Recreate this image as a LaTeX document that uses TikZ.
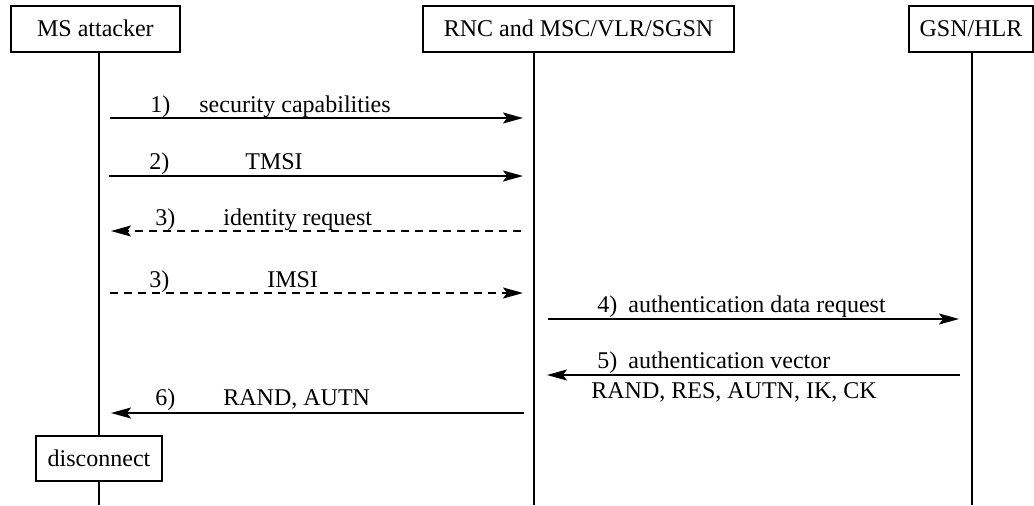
\documentclass[tikz,border=0pt]{standalone}
\usepackage{fontspec}
\setmainfont{Liberation Serif}
\usetikzlibrary{arrows.meta}
\begin{document}
\begin{tikzpicture}[x=0.5pt,y=-0.5pt,
  font=\fontsize{12pt}{14pt}\selectfont,
  actor/.style={draw,line width=0.9pt,inner sep=0pt,minimum height=23pt},
  lifeline/.style={line width=0.9pt},
  msg/.style={line width=0.9pt,-{Stealth[length=10pt,width=5.5pt,inset=2pt]}},
  dmsg/.style={msg,dash pattern=on 4pt off 3pt},
  lbl/.style={anchor=base west,inner sep=0pt}]
\useasboundingbox (0,0) rectangle (1034,505);
% actors
\node[actor,minimum width=84.5pt] (ms) at (95.4,28.7) {MS attacker};
\node[actor,minimum width=155.5pt] (rnc) at (578.5,28.7) {RNC and MSC/VLR/SGSN};
\node[actor,minimum width=62pt] (gsn) at (971,28.7) {GSN/HLR};
\node[actor,minimum width=63pt,minimum height=22.5pt] (disc) at (99,458.5) {disconnect};
% lifeline coordinates
\coordinate (msTop) at (99,51.7);
\coordinate (msEnd) at (99,505);
\coordinate (rncEnd) at (534,505);
\coordinate (gsnEnd) at (972,505);
\draw[lifeline] (msTop) -- (disc.north -| msTop);
\draw[lifeline] (disc.south -| msTop) -- (msEnd);
\draw[lifeline] (rnc.south -| rncEnd) -- (rncEnd);
\draw[lifeline] (gsn.south -| gsnEnd) -- (gsnEnd);
% message end points
\coordinate (a1s) at (110,118);  \coordinate (a1e) at (523,118);
\coordinate (a2s) at (109,176);  \coordinate (a2e) at (523,176);
\coordinate (a3s) at (521,231);  \coordinate (a3e) at (111,231);
\coordinate (a4s) at (110,293);  \coordinate (a4e) at (523,293);
\coordinate (a5s) at (548,319);  \coordinate (a5e) at (959,319);
\coordinate (a6s) at (960,375);  \coordinate (a6e) at (547,375);
\coordinate (a7s) at (524,413);  \coordinate (a7e) at (111,413);
\draw[msg] (a1s) -- (a1e);
\draw[msg] (a2s) -- (a2e);
\draw[dmsg] (a3s) -- (a3e);
\draw[dmsg] (a4s) -- (a4e);
\draw[msg] (a5s) -- (a5e);
\draw[msg] (a6s) -- (a6e);
\draw[msg] (a7s) -- (a7e);
% labels
\node[lbl] (n1) at (150,112) {1)};
\node[lbl] (t1) at (199,112) {security capabilities};
\node[lbl] (n2) at (149,169) {2)};
\node[lbl] (t2) at (245,169) {TMSI};
\node[lbl] (n3) at (155,225) {3)};
\node[lbl] (t3) at (223,225) {identity request};
\node[lbl] (n4) at (149,287) {3)};
\node[lbl] (t4) at (267,287) {IMSI};
\node[lbl] (n5) at (597,312) {4)};
\node[lbl] (t5) at (628,312) {authentication data request};
\node[lbl] (n6) at (597,368) {5)};
\node[lbl] (t6) at (628,368) {authentication vector};
\node[lbl] (t6b) at (591,398) {RAND, RES, AUTN, IK, CK};
\node[lbl] (n7) at (155,405) {6)};
\node[lbl] (t7) at (223,405) {RAND, AUTN};
\end{tikzpicture}
\end{document}
